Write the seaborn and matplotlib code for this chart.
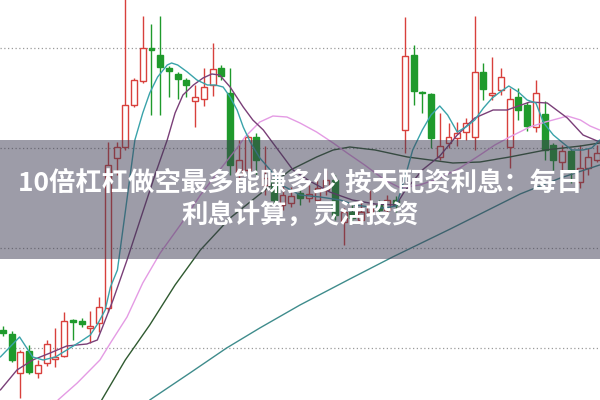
import numpy as np
import pandas as pd
import matplotlib
matplotlib.use("Agg")
import matplotlib.pyplot as plt
import seaborn as sns

# candle data, one entry per trading day (price units)
opens = [11.8, 11.4, 7.5, 9.7, 7.5, 8.5, 8.9, 9.2, 12.8, 12.7, 12.0, 12.5, 14.0, 29.0, 30.1,
         34.3, 36.7, 40.0, 39.3, 38.0, 37.4, 36.8, 34.7, 34.9, 36.3, 38.0, 35.5, 27.3, 27.8,
         31.1, 26.3, 26.8, 24.3, 24.5, 25.5, 25.0, 24.8, 25.8, 26.8, 22.6, 23.6, 22.8, 23.6,
         24.3, 23.8, 24.8, 31.8, 39.3, 35.6, 35.4, 29.1, 30.5, 31.0, 31.6, 31.1, 37.6, 35.3,
         35.8, 30.1, 35.1, 34.3, 32.1, 33.4, 30.3, 28.6, 29.7, 26.6, 28.0, 28.8]
closes = [11.5, 8.8, 9.6, 7.6, 8.3, 10.4, 9.1, 12.7, 12.6, 12.4, 12.2, 14.1, 28.3, 30.1, 34.3,
          36.8, 40.0, 39.8, 38.1, 37.7, 36.9, 36.3, 35.1, 36.1, 37.9, 37.2, 28.3, 28.8, 31.1,
          28.8, 27.0, 24.8, 25.3, 25.2, 25.0, 25.4, 26.0, 26.8, 23.3, 23.6, 23.0, 23.6, 24.3,
          23.8, 24.8, 24.3, 39.2, 35.7, 35.5, 31.0, 30.2, 31.1, 31.5, 32.5, 37.6, 35.9, 35.5,
          37.1, 34.9, 33.8, 32.2, 35.5, 29.8, 28.8, 29.7, 27.6, 28.0, 29.1, 29.5]
highs = [12.2, 11.7, 9.8, 10.3, 8.8, 10.8, 12.0, 13.6, 12.9, 13.0, 13.7, 15.1, 30.6, 30.6, 45.8,
         37.0, 43.2, 42.4, 43.2, 38.2, 37.6, 37.0, 36.3, 38.0, 40.5, 38.3, 38.0, 30.8, 31.3,
         31.5, 30.2, 27.3, 26.3, 26.1, 25.8, 26.3, 26.8, 27.8, 27.3, 24.0, 24.3, 24.8, 25.8,
         24.8, 25.3, 25.2, 43.1, 40.3, 35.7, 35.5, 33.5, 32.5, 32.6, 33.0, 43.2, 38.5, 39.1,
         38.0, 36.0, 36.0, 34.6, 36.8, 34.7, 30.5, 30.3, 29.9, 30.3, 30.0, 30.3]
lows = [11.2, 8.6, 5.0, 7.4, 7.0, 8.2, 8.1, 9.1, 10.8, 12.1, 10.5, 11.6, 13.6, 27.3, 29.8,
        34.1, 36.5, 33.3, 33.3, 35.1, 34.9, 35.1, 32.1, 34.2, 35.2, 36.8, 27.3, 26.8, 27.6,
        27.3, 25.3, 24.3, 23.8, 24.1, 24.3, 24.6, 24.5, 25.3, 22.8, 20.3, 22.6, 22.4, 23.3,
        23.3, 23.5, 23.6, 29.5, 34.3, 33.5, 30.0, 28.8, 30.0, 30.2, 30.8, 29.8, 34.8, 34.8,
        35.3, 28.0, 32.8, 31.7, 31.6, 28.8, 27.8, 27.6, 26.5, 26.0, 27.3, 28.6]

# moving average lines (day position, price)
ma5_x = [-0.3, 1.9, 3.4, 4.6, 6.0, 7.3, 8.8, 10.0, 10.9, 11.7, 12.3, 13.1, 14.0, 15.1, 16.0,
         16.8, 17.7, 18.8, 19.3, 20.0, 21.1, 22.2, 23.4, 24.3, 25.2, 26.0, 26.8, 27.5, 28.3,
         29.4, 30.6, 31.9, 34.0, 36.3, 38.6, 40.3, 42.0, 43.7, 45.0, 46.0, 46.9, 48.0, 49.0,
         50.0, 50.9, 52.0, 53.0, 54.0, 55.0, 56.0, 56.9, 57.9, 59.0, 60.0, 61.0, 61.9, 63.0,
         64.1, 65.1, 66.4, 67.4, 68.3]
ma5_y = [9.1, 11.1, 9.1, 8.8, 9.1, 9.8, 10.6, 11.3, 12.5, 13.8, 16.1, 17.8, 23.6, 30.8, 33.5,
         35.5, 37.1, 38.3, 38.5, 38.3, 37.6, 36.8, 36.3, 36.3, 36.1, 35.1, 33.8, 32.1, 30.6,
         29.0, 27.8, 26.3, 25.3, 25.1, 24.8, 24.3, 24.1, 24.0, 24.2, 27.0, 29.8, 31.8, 33.3,
         34.2, 33.3, 31.6, 32.1, 32.8, 34.0, 35.0, 35.6, 36.2, 35.6, 34.8, 34.5, 32.5, 31.3,
         30.5, 29.8, 29.8, 30.0, 30.8]
ma10_x = [-0.3, 1.6, 3.4, 5.4, 7.3, 9.6, 10.8, 11.4, 12.6, 14.2, 15.7, 17.4, 18.8, 19.7, 20.6,
          21.8, 22.9, 23.9, 24.8, 26.0, 27.5, 28.6, 29.8, 30.9, 32.1, 33.2, 34.9, 37.4, 40.0,
          42.6, 45.0, 46.0, 48.0, 50.0, 52.0, 54.0, 56.1, 57.7, 60.3, 62.3, 64.6, 66.4, 68.3]
ma10_y = [5.8, 7.8, 8.8, 9.5, 10.2, 10.4, 10.8, 12.1, 14.8, 18.8, 22.8, 27.3, 30.8, 33.5, 35.3,
          36.3, 37.0, 37.4, 37.3, 36.1, 34.1, 32.8, 31.8, 30.5, 29.1, 27.8, 26.8, 25.6, 24.8,
          24.4, 24.3, 25.7, 27.8, 29.2, 31.3, 33.0, 33.8, 33.8, 34.6, 34.5, 33.0, 31.3, 30.6]
ma20_x = [6.3, 8.5, 11.1, 12.3, 14.2, 16.0, 18.0, 20.3, 22.6, 24.8, 26.8, 27.7, 29.4, 30.9,
          32.5, 34.0, 35.9, 37.8, 39.4, 41.4, 43.7, 45.5, 47.7, 50.0, 52.3, 54.6, 56.3, 58.0,
          60.3, 62.1, 63.8, 64.6, 66.1, 67.2, 68.3]
ma20_y = [4.8, 6.5, 8.8, 10.5, 13.1, 16.5, 19.5, 22.3, 25.3, 27.8, 30.0, 31.1, 32.6, 33.2,
          33.1, 32.5, 31.6, 30.5, 29.5, 28.3, 26.8, 26.0, 26.3, 27.0, 28.0, 29.3, 30.3, 31.1,
          32.1, 32.6, 33.0, 33.2, 32.8, 32.2, 31.8]
ma30_x = [11.3, 14.0, 16.8, 19.7, 22.6, 26.0, 30.0, 32.9, 35.9, 37.8, 39.7, 42.6, 46.3, 48.9,
          51.5, 54.6, 58.0, 62.1, 66.1, 68.3]
ma30_y = [4.8, 8.8, 12.3, 16.3, 19.8, 23.0, 25.8, 27.8, 29.1, 29.8, 30.1, 29.8, 29.1, 28.8,
          28.5, 28.6, 29.1, 29.8, 30.2, 30.5]
ma120_x = [16.8, 21.4, 25.6, 29.4, 34.0, 39.7, 44.6, 51.2, 59.2, 63.8, 68.3]
ma120_y = [4.8, 7.5, 10.0, 12.0, 14.3, 16.9, 19.1, 21.9, 25.4, 27.0, 28.3]

title_1 = "10倍杠杠做空最多能赚多少 按天配资利息：每日"
title_2 = "利息计算，灵活投资"

sns.set_style("white")
plt.rcParams['font.family'] = ['Noto Sans CJK SC', 'DejaVu Sans']

fig = plt.figure(figsize=(6, 4), dpi=100)
ax = fig.add_axes([0, 0, 1, 1])

# dotted price grid
for level in [10, 20, 30, 40]:
    ax.axhline(level, color='#9a9a9a', linestyle=(0, (1, 2)), linewidth=0.9, zorder=1)

# candles
red = '#d8403c'
green = '#1f9a2c'
days = np.arange(len(opens))
for i in days:
    up = closes[i] >= opens[i]
    col = red if up else green
    ax.vlines(i, lows[i], highs[i], color=col, linewidth=1.0, zorder=2)
    bottom = min(opens[i], closes[i])
    height = max(abs(closes[i] - opens[i]), 0.15)
    ax.bar(i, height, bottom=bottom, width=0.68,
           facecolor='white' if up else col, edgecolor=col, linewidth=1.0, zorder=3)

# moving averages
lines = [
    (ma120_x, ma120_y, '#3f8c8c'),
    (ma30_x, ma30_y, '#2f5a30'),
    (ma20_x, ma20_y, '#e49be4'),
    (ma10_x, ma10_y, '#7a3f78'),
    (ma5_x, ma5_y, '#3aa3aa'),
]
for xs, ys, col in lines:
    df = pd.DataFrame({'day': xs, 'price': ys})
    sns.lineplot(data=df, x='day', y='price', color=col, linewidth=1.0,
                 sort=False, estimator=None, ax=ax, zorder=4)

ax.set_xlim(-0.34, 68.34)
ax.set_ylim(4.8, 44.8)
ax.axis('off')

# title banner
ax.axhspan(18.9, 30.8, color=(0.24, 0.23, 0.32), alpha=0.5, linewidth=0, zorder=5)
fig.text(0.5, 0.5425, title_1, ha='center', va='center', color='white',
         fontsize=19, fontweight='bold', zorder=6)
fig.text(0.5, 0.46, title_2, ha='center', va='center', color='white',
         fontsize=19, fontweight='bold', zorder=6)

plt.savefig('out.png', dpi=100)
